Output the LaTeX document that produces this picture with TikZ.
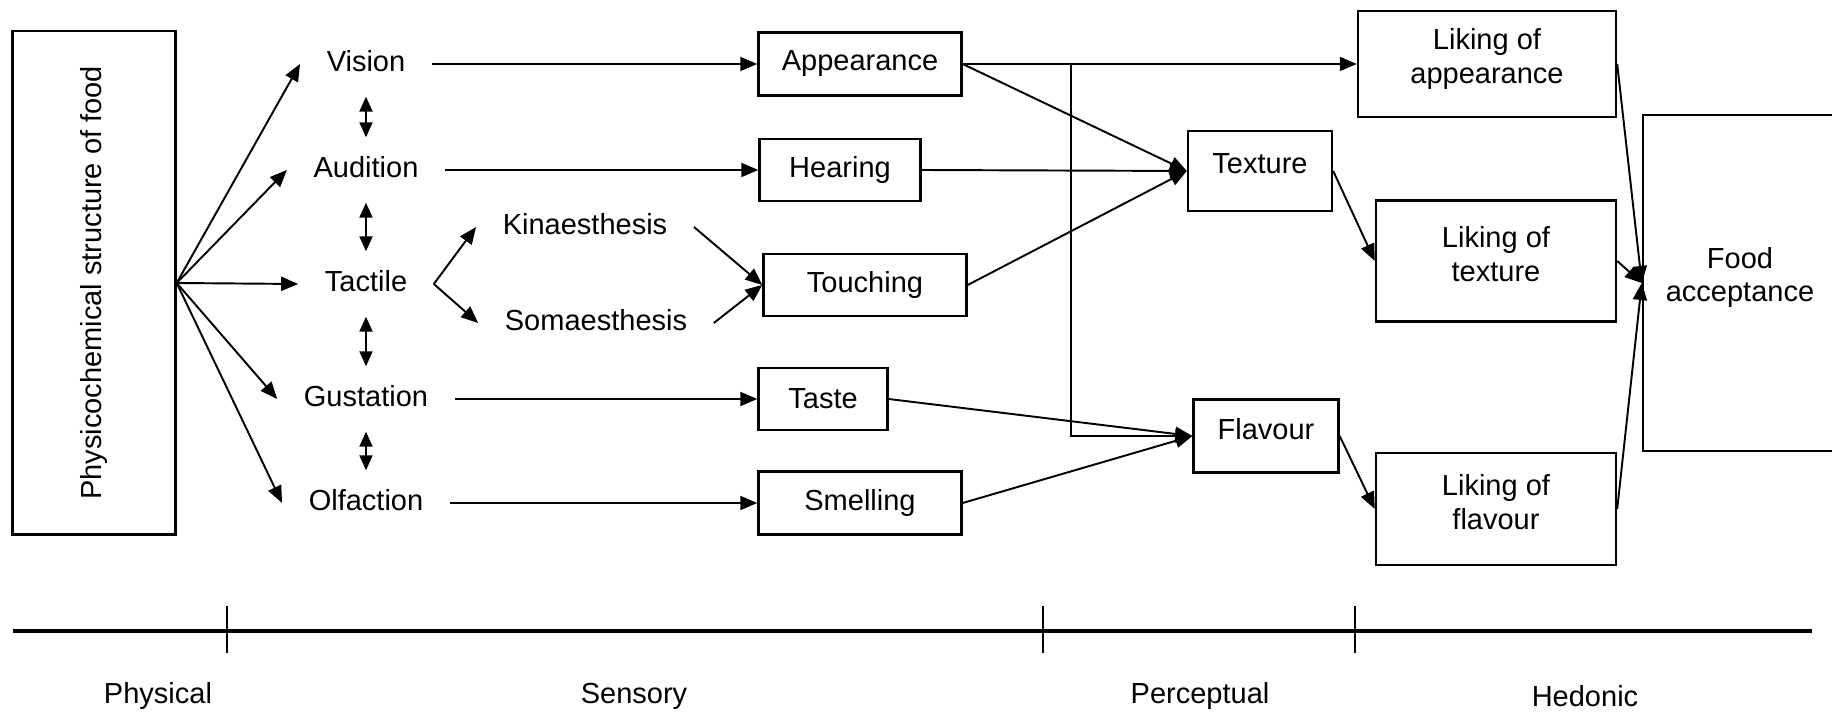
\documentclass[tikz,border=0pt]{standalone}
\usepackage{fontspec}
\setmainfont{Liberation Sans}
\usetikzlibrary{arrows.meta}

\begin{document}
\begin{tikzpicture}[x=.01cm,y=-.01cm,
  every node/.style={font=\fontsize{8.25}{9.4}\selectfont},
  sense/.style={inner xsep=.26cm,inner ysep=.19cm,text height=.21cm,text depth=.05cm},
  box/.style={draw,line width=.65pt,inner sep=0pt,align=center},
  lift/.style={text depth=#1},
  conn/.style={line width=.55pt,-{Triangle[length=.17cm,width=.14cm]}},
  both/.style={line width=.55pt,{Triangle[length=.15cm,width=.13cm]}-{Triangle[length=.15cm,width=.13cm]}}]
  \useasboundingbox (0,0) rectangle (1832,713);
  \clip (0,0) rectangle (1832,713);
  % physical
  \node[box,rotate=90,minimum width=5.03cm,minimum height=1.63cm] (phys) at (94,283) {Physicochemical structure of food};
  % senses
  \node[sense] (vis) at (366,64) {Vision};
  \node[sense] (aud) at (366,170) {Audition};
  \node[sense] (tac) at (366,284) {Tactile};
  \node[sense] (gus) at (366,399) {Gustation};
  \node[sense] (olf) at (366,503) {Olfaction};
  \node[sense] (kin) at (585,227) {Kinaesthesis};
  \node[sense] (som) at (596,323) {Somaesthesis};
  % sensory boxes
  \node[box,minimum width=2.03cm,minimum height=.63cm] (app) at (860,64) {Appearance};
  \node[box,minimum width=1.61cm,minimum height=.62cm] (hear) at (840,170) {Hearing};
  \node[box,minimum width=2.03cm,minimum height=.62cm] (touch) at (865,285) {Touching};
  \node[box,minimum width=1.29cm,minimum height=.62cm] (taste) at (823,399) {Taste};
  \node[box,minimum width=2.03cm,minimum height=.63cm] (smell) at (860,503) {Smelling};
  % perceptual
  \node[box,lift=.14cm,minimum width=1.44cm,minimum height=.80cm] (tex) at (1260,171) {Texture};
  \node[box,lift=.14cm,minimum width=1.45cm,minimum height=.73cm] (flav) at (1266,436) {Flavour};
  % hedonic
  \node[box,lift=.16cm,minimum width=2.58cm,minimum height=1.06cm] (lapp) at (1487,64) {Liking of\\appearance};
  \node[box,lift=.14cm,minimum width=2.40cm,minimum height=1.21cm] (ltex) at (1496,261) {Liking of\\texture};
  \node[box,lift=.14cm,minimum width=2.40cm,minimum height=1.12cm] (lflav) at (1496,509) {Liking of\\flavour};
  \node[box,lift=.17cm,minimum width=1.94cm,minimum height=3.36cm] (food) at (1740,283) {Food\\acceptance};

  % phys is turned, so its south side is the right one
  \draw[conn] (phys.south) -- (vis.west);
  \draw[conn] (phys.south) -- (aud.west);
  \draw[conn] (phys.south) -- (tac.west);
  \draw[conn] (phys.south) -- (gus.west);
  \draw[conn] (phys.south) -- (olf.west);
  \draw[both] (vis) -- (aud);
  \draw[both] (aud) -- (tac);
  \draw[both] (tac) -- (gus);
  \draw[both] (gus) -- (olf);
  \draw[conn] (tac.east) -- (kin.west);
  \draw[conn] (tac.east) -- (som.west);
  \draw[conn] (kin.east) -- (touch.west);
  \draw[conn] (som.east) -- (touch.west);
  \draw[conn] (vis.east) -- (app.west);
  \draw[conn] (aud.east) -- (hear.west);
  \draw[conn] (gus.east) -- (taste.west);
  \draw[conn] (olf.east) -- (smell.west);
  \draw[conn] (app.east) -- (lapp.west);
  \draw[conn] (app.east) -- (tex.west);
  \draw[conn] (hear.east) -- (tex.west);
  \draw[conn] (touch.east) -- (tex.west);
  \draw[conn] (taste.east) -- (flav.west);
  \draw[conn] (smell.east) -- (flav.west);
  \coordinate (fork) at (1071,64);
  \draw[conn] (fork) |- (flav.west);
  \draw[conn] (tex.east) -- (ltex.west);
  \draw[conn] (flav.east) -- (lflav.west);
  \draw[conn] (lapp.east) -- (food.west);
  \draw[conn] (ltex.east) -- (food.west);
  \draw[conn] (lflav.east) -- (food.west);

  % stages
  \draw[line width=.95pt] (13,631) -- (1812,631);
  \draw[line width=.35pt] (227,606) -- (227,653);
  \draw[line width=.35pt] (1043,606) -- (1043,653);
  \draw[line width=.35pt] (1355,606) -- (1355,653);
  \node (sphys) at (158,696) {Physical};
  \node (ssens) at (634,696) {Sensory};
  \node (sperc) at (1200,696) {Perceptual};
  \node (shed) at (1585,696) {Hedonic};
\end{tikzpicture}
\end{document}
